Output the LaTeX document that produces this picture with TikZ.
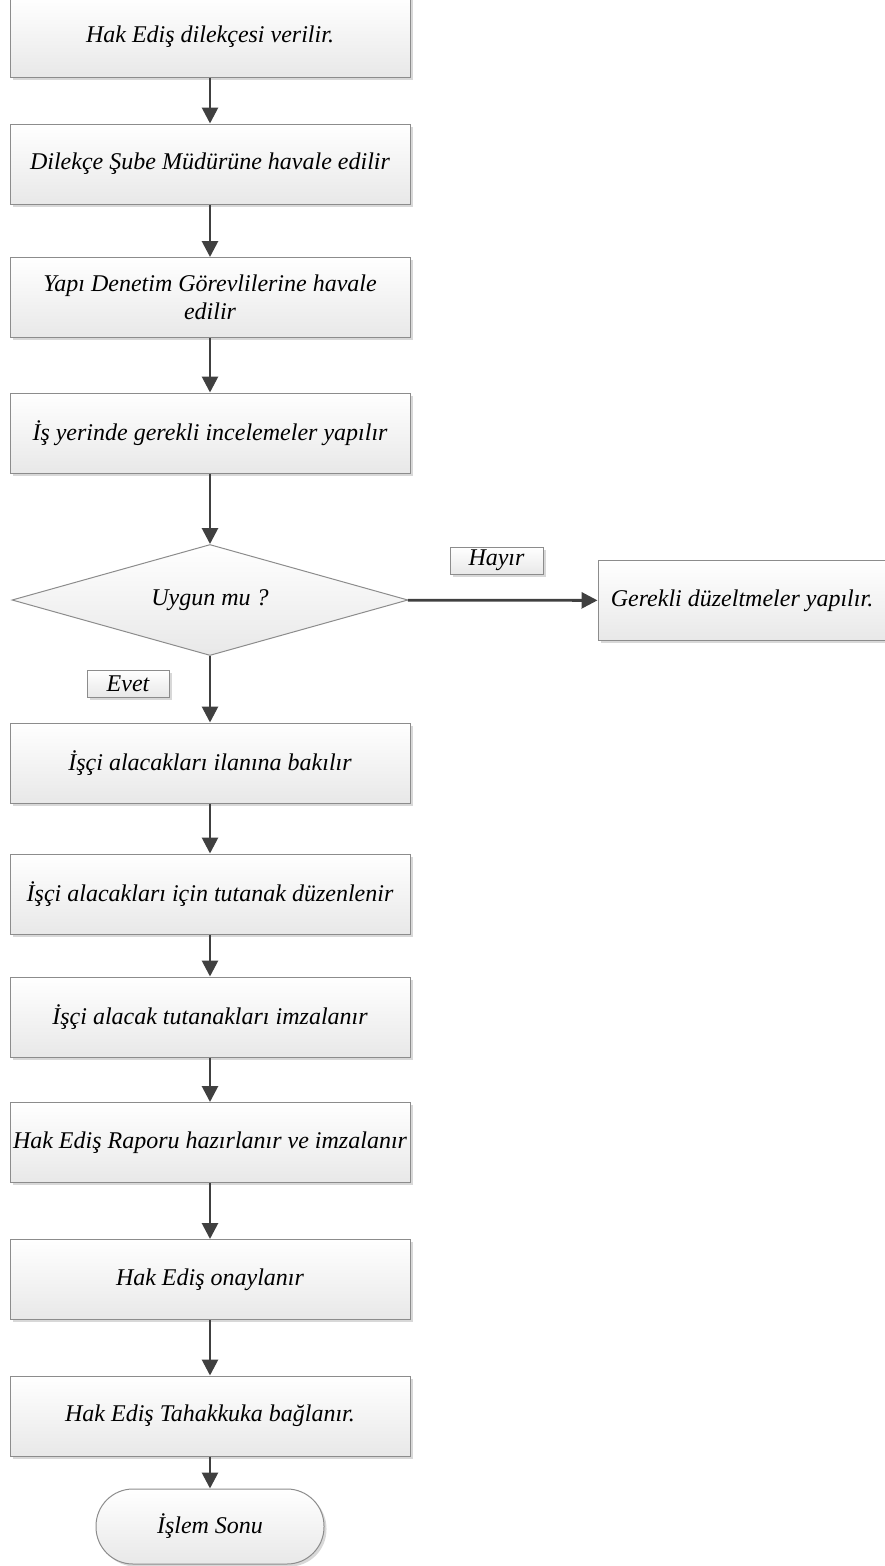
\documentclass[tikz,border=0pt]{standalone}
\usepackage{fontspec}
\setmainfont{Liberation Serif}
\usetikzlibrary{arrows.meta,shapes.geometric,shadows}

\begin{document}
\begin{tikzpicture}[x=1pt,y=-1pt,
  font=\fontsize{24}{28}\selectfont\itshape,
  shade/.style={top color=white,bottom color=black!9,draw=black!45,line width=1pt},
  shadowed/.style={drop shadow={shadow xshift=2.5pt,shadow yshift=-2.5pt,fill=black!30,opacity=0.5}},
  proc/.style={shade,shadowed,rectangle,minimum width=400pt,minimum height=80pt,align=center,inner sep=2pt},
  cond/.style={shade,diamond,aspect=3.57,minimum width=396pt,minimum height=111pt,inner sep=0pt},
  term/.style={shade,shadowed,rectangle,rounded corners=37pt,minimum width=228pt,minimum height=75pt},
  tag/.style={shade,shadowed,rectangle,minimum height=27pt,inner sep=1pt},
  flow/.style={draw=black!75,line width=2.8pt,-{Triangle[length=16pt,width=16pt]}}]
\useasboundingbox (0,0) rectangle (884,1566);

\node (dilekce)  at (210,  37.0) [proc] {Hak Ediş dilekçesi verilir.};
\node (havale)   at (210, 164.0) [proc] {Dilekçe Şube Müdürüne havale edilir};
\node (yapi)     at (210, 297.5) [proc] {Yapı Denetim Görevlilerine havale\\edilir};
\node (inceleme) at (210, 433.0) [proc] {İş yerinde gerekli incelemeler yapılır};
\node (uygun)    at (210, 600.0) [cond] {Uygun mu ?};
\node (duzelt)   at (742, 600.5) [proc,minimum width=288pt] {Gerekli düzeltmeler yapılır.};
\node (hayir)    at (496.5, 560.5) [tag,minimum width=93pt] {Hayır};
\node (evet)     at (128, 683.5) [tag,minimum width=82pt] {Evet};
\node (ilan)     at (210, 763.0) [proc] {İşçi alacakları ilanına bakılır};
\node (tutanak)  at (210, 894.0) [proc] {İşçi alacakları için tutanak düzenlenir};
\node (imza)     at (210,1017.0) [proc] {İşçi alacak tutanakları imzalanır};
\node (rapor)    at (210,1142.5) [proc] {Hak Ediş Raporu hazırlanır ve imzalanır};
\node (onay)     at (210,1279.5) [proc] {Hak Ediş onaylanır};
\node (tahakkuk) at (210,1416.0) [proc] {Hak Ediş Tahakkuka bağlanır.};
\node (son)      at (210,1526.5) [term] {İşlem Sonu};

\draw [flow] (dilekce)  -- (havale);
\draw [flow] (havale)   -- (yapi);
\draw [flow] (yapi)     -- (inceleme);
\draw [flow] (inceleme) -- (uygun);
\draw [flow] (uygun)    -- (duzelt);
\draw [flow] (uygun)    -- (ilan);
\draw [flow] (ilan)     -- (tutanak);
\draw [flow] (tutanak)  -- (imza);
\draw [flow] (imza)     -- (rapor);
\draw [flow] (rapor)    -- (onay);
\draw [flow] (onay)     -- (tahakkuk);
\draw [flow] (tahakkuk) -- (son);
\end{tikzpicture}
\end{document}
